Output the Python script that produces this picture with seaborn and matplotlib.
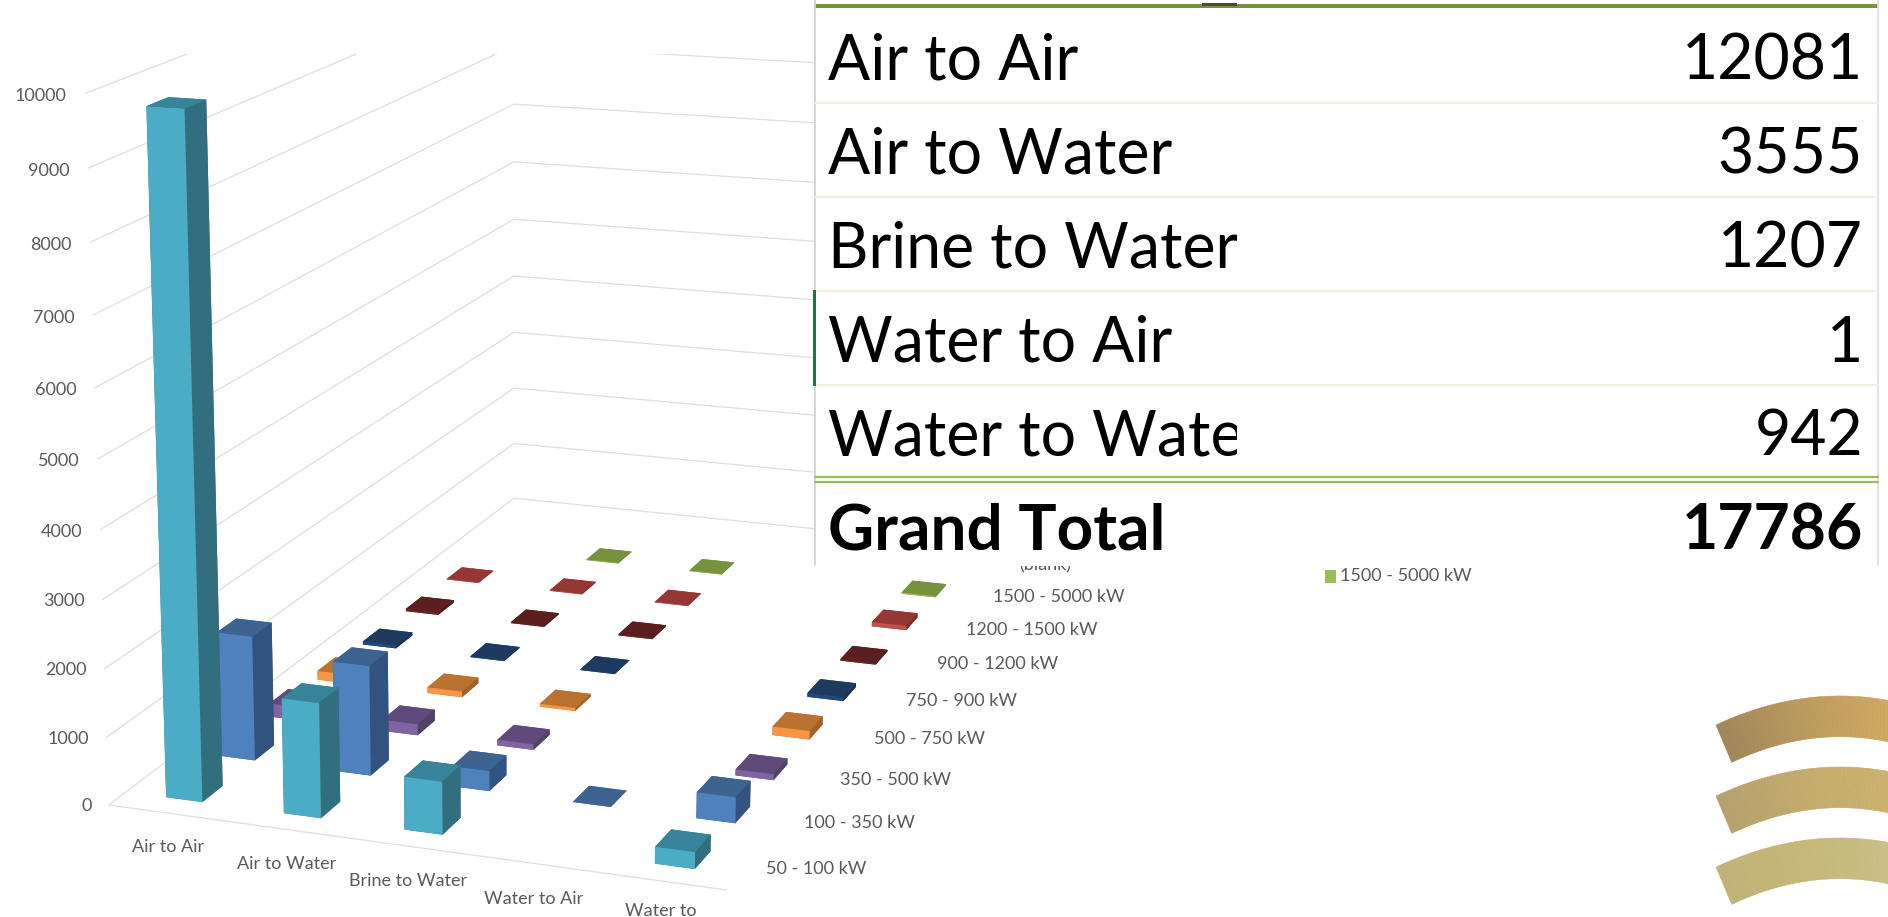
import numpy as np
import matplotlib
matplotlib.use("Agg")
import matplotlib.pyplot as plt
from matplotlib.patches import Rectangle
from mpl_toolkits.mplot3d import proj3d
from mpl_toolkits.mplot3d.art3d import Line3DCollection
import seaborn as sns

# ==========================================
# 1. DATA
# ==========================================
categories = ["Air to Air", "Air to Water", "Brine to Water", "Water to Air", "Water to"]
series_names = ["50 - 100 kW", "100 - 350 kW", "350 - 500 kW", "500 - 750 kW", "750 - 900 kW",
                "900 - 1200 kW", "1200 - 1500 kW", "1500 - 5000 kW", "(blank)"]

kw_50_100 = [9770, 1680, 770, 0, 240]
kw_100_350 = [1870, 1640, 300, 1, 380]
kw_350_500 = [210, 170, 85, 0, 90]
kw_500_750 = [140, 90, 45, 0, 130]
kw_750_900 = [50, 15, 10, 0, 60]
kw_900_1200 = [40, 20, 20, 0, 25]
kw_1200_1500 = [10, 10, 10, 0, 70]
kw_1500_5000 = [0, 10, 10, 0, 20]
kw_blank = [0, 0, 0, 0, 0]
series_values = [kw_50_100, kw_100_350, kw_350_500, kw_500_750, kw_750_900,
                 kw_900_1200, kw_1200_1500, kw_1500_5000, kw_blank]

z_ticks = [0, 1000, 2000, 3000, 4000, 5000, 6000, 7000, 8000, 9000, 10000]

table_names = ["Air to Air", "Air to Water", "Brine to Water", "Water to Air", "Water to Water"]
table_totals = [12081, 3555, 1207, 1, 942]
grand_total = 17786

# ==========================================
# 2. STYLE
# ==========================================
sns.set_theme(style="white")
plt.rcParams["font.family"] = ["Lato", "DejaVu Sans"]

front_colors = sns.color_palette(["#4BACC6", "#4F81BD", "#8064A2", "#F79646", "#1F497D",
                                  "#632523", "#C0504D", "#9BBB59", "#9BBB59"])
top_colors = sns.color_palette(["#37849A", "#3D6491", "#604A7B", "#B9722F", "#1F3A5F",
                                "#5A1F1E", "#943735", "#76923C", "#76923C"])
side_colors = sns.color_palette(["#316F80", "#325380", "#534268", "#A1622A", "#1B3354",
                                 "#4A1A19", "#7E2F2D", "#65803A", "#65803A"])

GRID = "#DEDEDE"
LABEL = "#595959"
BAR_DX = 0.31
BAR_DY = 0.38

# camera of the Excel 3D view, x = category, y = series, z = value, result in pixels
camera = np.array([
    [114.89, 60.04, -0.002839, 108.7],
    [6.269, -19.54, -0.07167, 805.0],
    [-1.0, 1.0, -1e-4, 0.0],
    [-0.012056, 0.029204, -5.524e-6, 1.0],
])


def to_px(x, y, z):
    px, py, _ = proj3d.proj_transform(x, y, z, camera)
    return float(px), float(py)


W_PX, H_PX = 1888, 917
fig = plt.figure(figsize=(W_PX / 100, H_PX / 100), dpi=100, facecolor="white")

# ==========================================
# 3. 3D CHART
# ==========================================
ax = fig.add_axes([0, 0, 1, 1], projection="3d", computed_zorder=False)
ax.set_axis_off()
ax.get_proj = lambda: camera
ax.apply_aspect = lambda position=None: None

segments = [[(0, 0, 0), (5, 0, 0)]]
for v in z_ticks:
    segments.append([(0, 0, v), (0, 9, v)])
    segments.append([(0, 9, v), (5, 9, v)])
grid = Line3DCollection(segments, colors=GRID, linewidths=0.9)
ax.add_collection3d(grid)
grid.set_zorder(1)

order = 2
for s in range(len(series_names) - 1, -1, -1):
    for c in range(len(categories)):
        value = series_values[s][c]
        if value <= 0:
            continue
        faces = [top_colors[s], top_colors[s], front_colors[s],
                 side_colors[s], side_colors[s], side_colors[s]]
        bar = ax.bar3d(c + 0.5 - BAR_DX / 2, s + 0.5 - BAR_DY / 2, 0,
                       BAR_DX, BAR_DY, value, color=faces, shade=False, linewidth=0)
        bar.set_zorder(order)
        order += 1

ax.viewLim.intervalx = (0, W_PX)
ax.viewLim.intervaly = (H_PX, 0)

# ==========================================
# 4. LABELS, PASTED TABLE AND LOGO ON TOP
# ==========================================
ov = fig.add_axes([0, 0, 1, 1], zorder=10)
ov.set_xlim(0, W_PX)
ov.set_ylim(H_PX, 0)
ov.axis("off")

# axis labels follow the camera, under the pasted table
for v in z_ticks:
    px, py = to_px(-0.15, 0, v - 50)
    ov.text(px, py, str(v), ha="right", va="center", fontsize=13, color=LABEL, zorder=0.5)
for c, name in enumerate(categories):
    # last label sits right at the bottom of the screenshot
    drop = -510 if c < 4 else -420
    px, py = to_px(c + 0.5, 0, drop)
    ov.text(px, py, name, ha="center", va="center", fontsize=13, color=LABEL, zorder=0.5)
for s, name in enumerate(series_names):
    px, py = to_px(5.14, s + 0.5, 0)
    ov.text(px, py, name, ha="left", va="center", fontsize=13, color=LABEL, zorder=0.5)

ov.add_patch(Rectangle((0, 0), 815, 54, color="white", lw=0))
ov.add_patch(Rectangle((815, 0), W_PX - 815, 565.5, color="white", lw=0))

ov.plot([815, 815], [0, 565], color="#D0D0D0", lw=1.2)
ov.plot([1878, 1878], [0, 565], color="#DDDDDD", lw=1.2)
ov.add_patch(Rectangle((813, 290), 3, 96, color="#217346", lw=0, zorder=3))
ov.add_patch(Rectangle((815, 4), 1063, 4, color="#76923C", lw=0))
ov.add_patch(Rectangle((1202, 3), 35, 2.5, color="#4A4A3A", lw=0))
for y in [102.5, 197, 291, 384.5]:
    ov.plot([815, 1878], [y, y], color="#EBF1DE", lw=1.5)
for y in [476.5, 482]:
    ov.plot([815, 1878], [y, y], color="#9BBB59", lw=1.6)

name_clip = Rectangle((815, 0), 422, 565, transform=ov.transData)
for name, total, base in zip(table_names, table_totals, [80, 174, 268, 362, 455]):
    t = ov.text(828, base, name, ha="left", va="baseline", fontsize=45, color="black", clip_on=True)
    t.set_clip_path(name_clip)
    ov.text(1863, base, str(total), ha="right", va="baseline", fontsize=45, color="black")
ov.text(828, 549, "Grand Total", ha="left", va="baseline", fontsize=46, fontweight="bold", color="black")
ov.text(1863, 549, str(grand_total), ha="right", va="baseline", fontsize=45, fontweight="bold", color="black")

# legend fragment left under the table
ov.add_patch(Rectangle((1325, 570), 11, 13, color="#9BBB59", lw=0))
ov.text(1340, 576, series_names[7], ha="left", va="center", fontsize=13, color=LABEL)

# logo arcs, drawn in thin slices for the gradient
arc_colors = [("#A0855A", "#BB9A5C", "#CFA85F"),
              ("#B5A06C", "#C4AB6C", "#CBB06F"),
              ("#C0B277", "#C5B776", "#C9BE85")]
for i, (c0, c1, c2) in enumerate(arc_colors):
    shift = 71 * i
    rgb = np.array([matplotlib.colors.to_rgb(k) for k in (c0, c1, c2)])
    steps = np.linspace(0, 1, 61)
    for t0, t1 in zip(steps[:-1], steps[1:]):
        xo = 1716 + np.array([t0, t1]) * (W_PX - 1716)
        xi = 1731.7 + np.array([t1, t0]) * (W_PX - 1731.7)
        yo = 696 + 0.00189 * (xo - 1840) ** 2 + shift
        yi = 736.7 + 0.00219 * (xi - 1840) ** 2 + shift
        col = [np.interp(t0, [0, 0.5, 1], rgb[:, j]) for j in range(3)]
        ov.fill(np.r_[xo, xi], np.r_[yo, yi], color=col, lw=0.4)

fig.savefig("out.png", dpi=100, facecolor="white")
